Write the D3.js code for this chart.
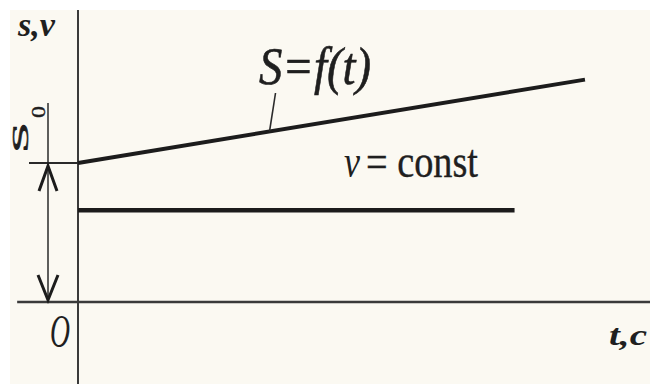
<!DOCTYPE html>
<html>
<head>
<meta charset="utf-8">
<script src="https://cdn.jsdelivr.net/npm/d3@7"></script>
<style>
  body { margin: 0; background: #ffffff; }
  text { fill: #1f1f1f; }
</style>
</head>
<body>
<div id="container"></div>
<script>
// values (arbitrary units)
let sTimes = [0, 9];          // S = f(t) line
let sValues = [5, 8];
let vTimes = [0, 7.75];       // v = const line
let vValues = [3.3, 3.3];
let s0 = 5;                   // initial path S0
let leaderT = 3.4;            // where the label leader touches S line

let w = 650;
let h = 384;

let viz = d3.select("#container").append("svg")
    .attr("width", w)
    .attr("height", h);

// scanned paper background
viz.append("rect")
    .attr("x", 10).attr("y", 10)
    .attr("width", w - 10).attr("height", h - 10)
    .attr("fill", "#fbf9f2");

let xScale = d3.scaleLinear().domain([0, 10]).range([78, 641.3]);
let yScale = d3.scaleLinear().domain([0, 10]).range([302, 24]);

let line = d3.line()
    .x(d => xScale(d[0]))
    .y(d => yScale(d[1]));

// axes (no ticks, just the two lines)
viz.append("line")
    .attr("x1", xScale(-1.08)).attr("x2", w)
    .attr("y1", yScale(0)).attr("y2", yScale(0))
    .attr("stroke", "#3a3a3a").attr("stroke-width", 2.5);

viz.append("line")
    .attr("x1", xScale(0)).attr("x2", xScale(0))
    .attr("y1", yScale(10.5)).attr("y2", h)
    .attr("stroke", "#3a3a3a").attr("stroke-width", 2);

// S = f(t)
let sData = sTimes.map((t, i) => [t, sValues[i]]);
viz.append("path")
    .attr("d", line(sData))
    .attr("fill", "none")
    .attr("stroke", "#1c1c1c")
    .attr("stroke-width", 4);

// v = const
let vData = vTimes.map((t, i) => [t, vValues[i]]);
viz.append("path")
    .attr("d", line(vData))
    .attr("fill", "none")
    .attr("stroke", "#1c1c1c")
    .attr("stroke-width", 4.5);

// leader from label to S line
let sAt = d3.scaleLinear().domain(sTimes).range(sValues);
viz.append("line")
    .attr("x1", xScale(leaderT) + 6).attr("y1", 93)
    .attr("x2", xScale(leaderT)).attr("y2", yScale(sAt(leaderT)))
    .attr("stroke", "#2a2a2a").attr("stroke-width", 1.6);

// S0 dimension
let dimX = 48;
viz.append("line")
    .attr("x1", 29).attr("x2", xScale(0))
    .attr("y1", yScale(s0)).attr("y2", yScale(s0))
    .attr("stroke", "#2a2a2a").attr("stroke-width", 2);

viz.append("line")
    .attr("x1", dimX).attr("x2", dimX)
    .attr("y1", 103).attr("y2", yScale(0))
    .attr("stroke", "#2a2a2a").attr("stroke-width", 1.5);

let arrowTop = yScale(s0) + 3;
let arrowBot = yScale(0) - 2;
viz.append("path")
    .attr("d", "M" + (dimX - 9) + "," + (arrowTop + 25) + " L" + dimX + "," + arrowTop + " L" + (dimX + 9) + "," + (arrowTop + 25))
    .attr("fill", "none").attr("stroke", "#1c1c1c").attr("stroke-width", 3);
viz.append("path")
    .attr("d", "M" + (dimX - 10) + "," + (arrowBot - 25) + " L" + dimX + "," + arrowBot + " L" + (dimX + 10) + "," + (arrowBot - 25))
    .attr("fill", "none").attr("stroke", "#1c1c1c").attr("stroke-width", 3);

// labels
let serif = "'Liberation Serif', 'DejaVu Serif', serif";

viz.append("text")
    .attr("x", 18).attr("y", 36)
    .attr("font-family", serif).attr("font-style", "italic").attr("font-weight", "bold")
    .attr("font-size", 34)
    .attr("textLength", 37).attr("lengthAdjust", "spacingAndGlyphs")
    .text("s,v");

viz.append("text")
    .attr("transform", "translate(28,153) rotate(-90)")
    .attr("font-family", serif)
    .attr("font-size", 23)
    .attr("stroke", "#1f1f1f").attr("stroke-width", 0.6)
    .attr("textLength", 31).attr("lengthAdjust", "spacingAndGlyphs")
    .text("S");
viz.append("text")
    .attr("transform", "translate(45,118) rotate(-90)")
    .attr("font-family", serif)
    .attr("font-size", 19)
    .attr("stroke", "#1f1f1f").attr("stroke-width", 0.4)
    .attr("textLength", 12).attr("lengthAdjust", "spacingAndGlyphs")
    .text("0");

viz.append("text")
    .attr("x", 259).attr("y", 84)
    .attr("font-family", serif).attr("font-style", "italic")
    .attr("font-size", 52)
    .attr("stroke", "#1f1f1f").attr("stroke-width", 0.6)
    .attr("textLength", 112).attr("lengthAdjust", "spacingAndGlyphs")
    .text("S=f(t)");

viz.append("text")
    .attr("x", 344).attr("y", 177)
    .attr("font-family", serif).attr("font-style", "italic")
    .attr("font-size", 46)
    .attr("textLength", 16).attr("lengthAdjust", "spacingAndGlyphs")
    .text("v");

viz.append("text")
    .attr("x", 366).attr("y", 177)
    .attr("font-family", serif)
    .attr("font-size", 46)
    .attr("stroke", "#1f1f1f").attr("stroke-width", 0.4)
    .attr("textLength", 112).attr("lengthAdjust", "spacingAndGlyphs")
    .text("= const");

viz.append("text")
    .attr("x", 50).attr("y", 347)
    .attr("font-family", serif).attr("font-style", "italic")
    .attr("font-size", 46)
    .attr("textLength", 20).attr("lengthAdjust", "spacingAndGlyphs")
    .text("O");

viz.append("text")
    .attr("x", 609).attr("y", 345)
    .attr("font-family", serif).attr("font-style", "italic").attr("font-weight", "bold")
    .attr("font-size", 30)
    .attr("textLength", 38).attr("lengthAdjust", "spacingAndGlyphs")
    .text("t,c");
</script>
</body>
</html>
